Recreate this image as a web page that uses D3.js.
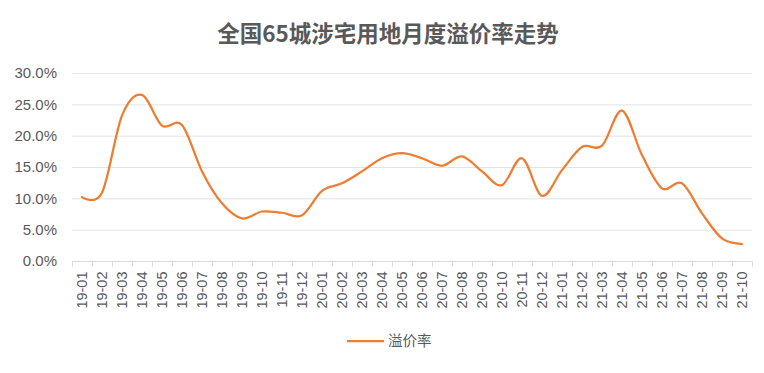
<!DOCTYPE html>
<html>
<head>
<meta charset="utf-8">
<script src="https://cdn.jsdelivr.net/npm/d3@7"></script>
<style>
  body { margin: 0; background: #fff; }
  svg { display: block; }
</style>
</head>
<body>
<svg id="chart" width="764" height="373"></svg>
<script>
// 月份
const months = [
  "19-01","19-02","19-03","19-04","19-05","19-06","19-07","19-08","19-09","19-10","19-11","19-12",
  "20-01","20-02","20-03","20-04","20-05","20-06","20-07","20-08","20-09","20-10","20-11","20-12",
  "21-01","21-02","21-03","21-04","21-05","21-06","21-07","21-08","21-09","21-10"
];
// 溢价率 (%)
const premiumRate = [
  10.2, 10.9, 23.2, 26.5, 21.6, 21.7, 14.3, 9.2, 6.8, 7.9, 7.7, 7.3,
  11.2, 12.4, 14.3, 16.4, 17.2, 16.4, 15.2, 16.7, 14.3, 12.1, 16.4, 10.4,
  14.5, 18.2, 18.4, 24.0, 16.9, 11.6, 12.4, 7.6, 3.6, 2.7
];
const yTicks = [0, 5, 10, 15, 20, 25, 30];

const title = "全国65城涉宅用地月度溢价率走势";
const seriesName = "溢价率";

const WIDTH = 764,
    HEIGHT = 373,
    MARGINS = {top: 73, right: 12, bottom: 112, left: 72},
    COLOR = "#ED7D31",
    TEXT = "#595959",
    FONT = "'Noto Sans CJK SC', 'Noto Sans', sans-serif";

const vis = d3.select("#chart");

const xScale = d3.scaleBand()
    .domain(months)
    .range([MARGINS.left, WIDTH - MARGINS.right]);
const yScale = d3.scaleLinear()
    .domain([0, 30])
    .range([HEIGHT - MARGINS.bottom, MARGINS.top]);

// title
vis.append("text")
    .attr("x", 388)
    .attr("y", 42)
    .attr("text-anchor", "middle")
    .attr("font-family", FONT)
    .attr("font-weight", "bold")
    .attr("font-size", 22.5)
    .attr("fill", TEXT)
    .text(title);

// grid lines
vis.append("g").selectAll("line")
    .data(yTicks.slice(1))
    .enter()
    .append("line")
    .attr("x1", MARGINS.left)
    .attr("x2", WIDTH - MARGINS.right)
    .attr("y1", d => yScale(d) + 0.5)
    .attr("y2", d => yScale(d) + 0.5)
    .attr("stroke", "#e3e3e3")
    .attr("stroke-width", 1);

// y axis (labels only)
const yAxis = d3.axisLeft(yScale)
    .tickValues(yTicks)
    .tickSize(0)
    .tickPadding(15)
    .tickFormat(d => d.toFixed(1) + "%");
const yG = vis.append("g")
    .attr("transform", "translate(" + MARGINS.left + ",0)")
    .call(yAxis);
yG.select(".domain").remove();
yG.selectAll("text")
    .attr("font-family", "'Liberation Sans', 'Noto Sans', sans-serif")
    .attr("font-size", 15)
    .attr("fill", TEXT);

// x axis: ticks at category boundaries
const baseY = yScale(0) + 0.5;
vis.append("line")
    .attr("x1", MARGINS.left)
    .attr("x2", WIDTH - MARGINS.right)
    .attr("y1", baseY)
    .attr("y2", baseY)
    .attr("stroke", "#d9d9d9");
const bounds = months.map(m => xScale(m)).concat([WIDTH - MARGINS.right]);
vis.append("g").selectAll("line")
    .data(bounds)
    .enter()
    .append("line")
    .attr("x1", d => Math.round(d) + 0.5)
    .attr("x2", d => Math.round(d) + 0.5)
    .attr("y1", baseY)
    .attr("y2", baseY + 5)
    .attr("stroke", "#d9d9d9");

vis.append("g").selectAll("text")
    .data(months)
    .enter()
    .append("text")
    .attr("transform", d => "translate(" + (xScale(d) + xScale.bandwidth() / 2 + 5) + "," + (baseY + 10) + ")rotate(-90)")
    .attr("text-anchor", "end")
    .attr("font-family", "'Liberation Sans', 'Noto Sans', sans-serif")
    .attr("font-size", 14.5)
    .attr("fill", TEXT)
    .text(d => d);

// line
const lineGen = d3.line()
    .x((d, i) => xScale(months[i]) + xScale.bandwidth() / 2)
    .y(d => yScale(d))
    .curve(d3.curveCardinal.tension(0));
vis.append("path")
    .attr("d", lineGen(premiumRate))
    .attr("fill", "none")
    .attr("stroke", COLOR)
    .attr("stroke-width", 2.25)
    .attr("stroke-linejoin", "round")
    .attr("stroke-linecap", "round");

// legend
const legend = vis.append("g").attr("transform", "translate(347,341)");
legend.append("line")
    .attr("x1", 0).attr("x2", 37)
    .attr("y1", 0).attr("y2", 0)
    .attr("stroke", COLOR)
    .attr("stroke-width", 2.25);
legend.append("text")
    .attr("x", 41)
    .attr("y", 5)
    .attr("font-family", FONT)
    .attr("font-size", 14.5)
    .attr("fill", TEXT)
    .text(seriesName);
</script>
</body>
</html>
